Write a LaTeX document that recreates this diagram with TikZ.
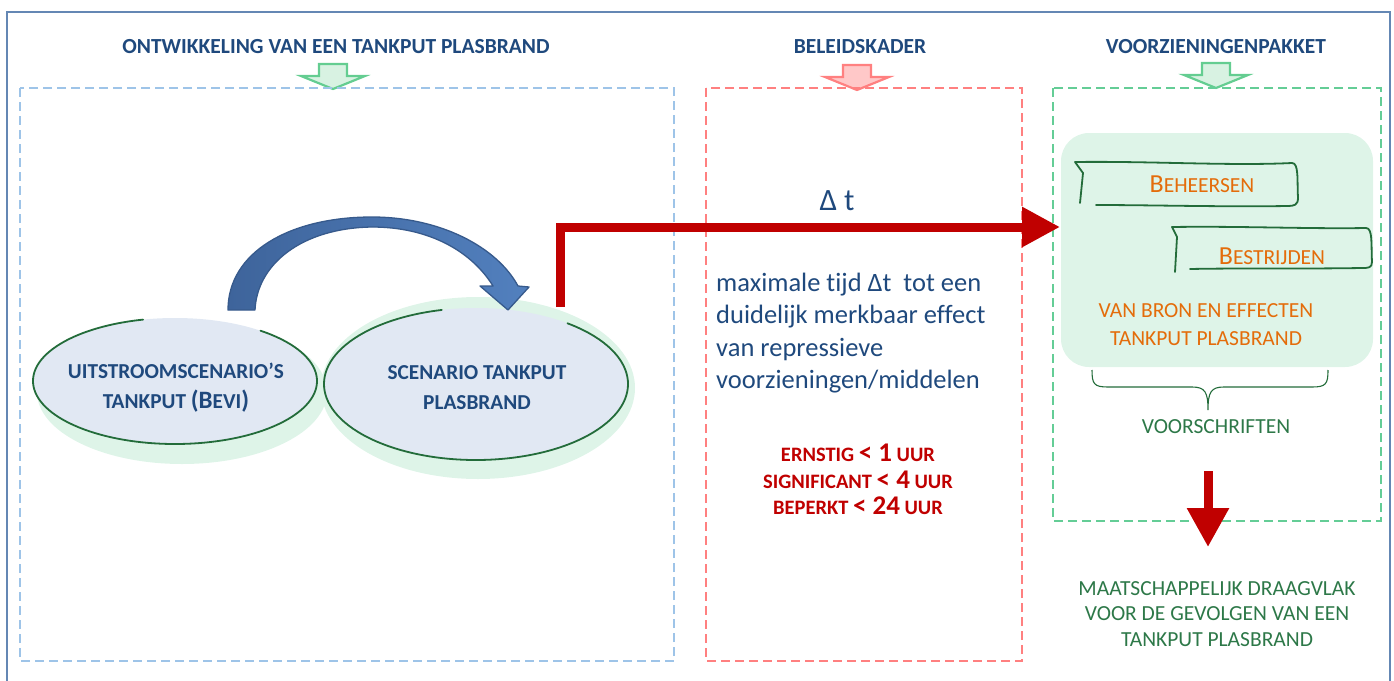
\documentclass[tikz,border=0pt]{standalone}
\usepackage{fontspec}
\setmainfont{Carlito}[Ligatures=NoCommon]
\usetikzlibrary{arrows.meta,shapes.geometric}
\definecolor{frameblue}{RGB}{100,135,180}
\definecolor{txtblue}{RGB}{31,73,125}
\definecolor{boxblue}{RGB}{158,196,232}
\definecolor{boxred}{RGB}{255,128,128}
\definecolor{boxgreen}{RGB}{100,205,150}
\definecolor{arrgreen}{RGB}{100,205,145}
\definecolor{arrgreenfill}{RGB}{216,242,226}
\definecolor{arrredfill}{RGB}{255,200,200}
\definecolor{shadegreen}{RGB}{222,244,232}
\definecolor{ellfill}{RGB}{225,232,243}
\definecolor{sketch}{RGB}{35,108,58}
\definecolor{darkred}{RGB}{192,0,0}
\definecolor{orng}{RGB}{228,108,10}
\definecolor{grtxt}{RGB}{45,120,72}
\definecolor{arcdark}{RGB}{55,90,140}
\definecolor{arcA}{RGB}{62,100,155}
\definecolor{arcB}{RGB}{82,128,190}
\newcommand\fsz[1]{\fontsize{#1}{#1}\selectfont}
\begin{document}
\begin{tikzpicture}[x=1pt,y=-1pt,
  frame/.style={draw=frameblue,line width=1.4pt},
  dbox/.style={line width=2.4pt,dash pattern=on 9pt off 5pt},
  title/.style={text=txtblue,font=\fsz{21.5}\bfseries,inner sep=0pt},
  harrow/.pic={\path[pic actions] (-14,0) -- (14,0) -- (14,12) -- (32,12) -- (0,25) -- (-32,12) -- (-14,12) -- cycle;},
  ellnode/.style={ellipse,fill=ellfill,inner sep=0pt},
  elltext/.style={text=txtblue,font=\fontsize{21.3}{30}\selectfont\bfseries,align=center,inner sep=0pt},
  sketchline/.style={draw=sketch,line width=1.8pt,line cap=round,line join=round},
  redline/.style={draw=darkred,line width=9pt,line join=miter},
  para/.style={text=txtblue,font=\fontsize{26.5}{32.6}\selectfont,align=left,inner sep=0pt},
  redtxt/.style={text=darkred,font=\fsz{20.5}\bfseries,inner sep=0pt},
  ortxt/.style={text=orng,font=\fontsize{21.5}{28}\selectfont,inner sep=0pt,align=center},
  grntxt/.style={text=grtxt,font=\fontsize{21.5}{25.5}\selectfont,inner sep=0pt,align=center}]
\useasboundingbox (0,0) rectangle (1394,680);
% outer frame
\draw[frame] (7,700) -- (7,12) -- (1390,12) -- (1390,700);
% titles
\node[title] (t1) at (336,47) {ONTWIKKELING VAN EEN TANKPUT PLASBRAND};
\node[title] (t2) at (860,47) {BELEIDSKADER};
\node[title] (t3) at (1216,47) {VOORZIENINGENPAKKET};
% hollow arrows
\pic[draw=arrgreen,fill=arrgreenfill,line width=2.2pt,line join=miter] at (333,64) {harrow};
\pic[draw=boxred,fill=arrredfill,line width=2.2pt,line join=miter] at (857,65) {harrow};
\pic[draw=arrgreen,fill=arrgreenfill,line width=2.2pt,line join=miter] at (1216,63) {harrow};
% dashed boxes
\draw[dbox,draw=boxblue] (20,88) rectangle (674,661);
\draw[dbox,draw=boxred] (706,88) rectangle (1022,661);
\draw[dbox,draw=boxgreen] (1053,88) rectangle (1381,521);
% ellipse shadows
\fill[shadegreen] (182,392) ellipse[x radius=145,y radius=72];
\fill[shadegreen] (478,388) ellipse[x radius=157,y radius=91];
% ellipses
\node[ellnode,minimum width=284pt,minimum height=126pt] (e1) at (175,381) {};
\node[ellnode,minimum width=304pt,minimum height=152pt] (e2) at (476,384) {};
\draw[sketchline] (e1.center) ++(307:142 and 63) arc[start angle=307,end angle=617,x radius=142,y radius=63];
\draw[sketchline] (e2.center) ++(307:152 and 76) arc[start angle=307,end angle=617,x radius=152,y radius=76];
\node[elltext] (l1) at (176,388) {UITSTROOMSCENARIO’S\\TANKPUT {\fontsize{25}{30}\selectfont(B}EVI{\fontsize{25}{30}\selectfont)}};
\node[elltext] (l2) at (477,388) {SCENARIO TANKPUT\\PLASBRAND};
% curved blue arrow from e1 to e2
\shade[left color=arcA,right color=arcB,draw=arcdark,line width=1.3pt,line join=round]
  (228,310) .. controls (228,252) and (290,217) .. (372,217)
  .. controls (440,217) and (497,247) .. (518,286)
  -- (529,287) -- (508,310) -- (480,286) -- (493,286)
  .. controls (472,252) and (430,227) .. (372,227)
  .. controls (302,228) and (257,264) .. (255,310) -- cycle;
% red connector
\coordinate (rs) at (560,307);
\coordinate (rt) at (1060,227);
\draw[redline,-{Triangle[length=38pt,width=38pt]}] (rs) |- (rt);
\node[text=txtblue,font=\fsz{31},inner sep=0pt] (dt) at (837,201) {Δ t};
\node[para,anchor=west] (p) at (716,333) {maximale tijd Δt\ \ tot een\\duidelijk merkbaar effect\\van repressieve\\voorzieningen/middelen};
\node[redtxt] (r1) at (858,453) {ERNSTIG {\fsz{27}< 1} UUR};
\node[redtxt] (r2) at (858,480) {SIGNIFICANT {\fsz{27}< 4} UUR};
\node[redtxt] (r3) at (858,506) {BEPERKT {\fsz{27}< 24} UUR};
% right panel
\node[fill=shadegreen,rounded corners=28pt,minimum width=312pt,minimum height=234pt,inner sep=0pt] (gp) at (1217,250) {};
\draw[sketchline] (1080,203) -- (1083,173) -- (1075,162) .. controls (1150,161) and (1230,166) .. (1292,163)
  .. controls (1299,163) and (1297,180) .. (1298,198) .. controls (1298,205) and (1294,206) .. (1288,206)
  .. controls (1220,207) and (1150,205) .. (1096,205);
\node[ortxt] (b1) at (1202,184) {{\fsz{26}B}EHEERSEN};
\draw[sketchline] (1175,272) -- (1177,237) -- (1172,227) .. controls (1240,226) and (1310,229) .. (1366,228)
  .. controls (1373,228) and (1371,245) .. (1372,262) .. controls (1372,268) and (1368,268) .. (1362,268)
  .. controls (1300,269) and (1240,268) .. (1190,269);
\node[ortxt] (b2) at (1272,256) {{\fsz{26}B}ESTRIJDEN};
\node[ortxt] (b3) at (1206,325) {VAN BRON EN EFFECTEN\\TANKPUT PLASBRAND};
\draw[draw=sketch,line width=1.1pt] (1092,370) .. controls (1092,384) and (1094,387) .. (1108,387) -- (1192,387)
  .. controls (1205,387) and (1208,392) .. (1208,410) .. controls (1208,392) and (1211,387) .. (1224,387)
  -- (1312,387) .. controls (1326,387) and (1328,384) .. (1328,370);
\node[grntxt] (vs) at (1216,427) {VOORSCHRIFTEN};
\coordinate (ds) at (1208,471);
\coordinate (de) at (1208,547);
\draw[redline,-{Triangle[length=39pt,width=40pt]}] (ds) -- (de);
\node[grntxt] (md) at (1217,614) {MAATSCHAPPELIJK DRAAGVLAK\\VOOR DE GEVOLGEN VAN EEN\\TANKPUT PLASBRAND};
\end{tikzpicture}
\end{document}
